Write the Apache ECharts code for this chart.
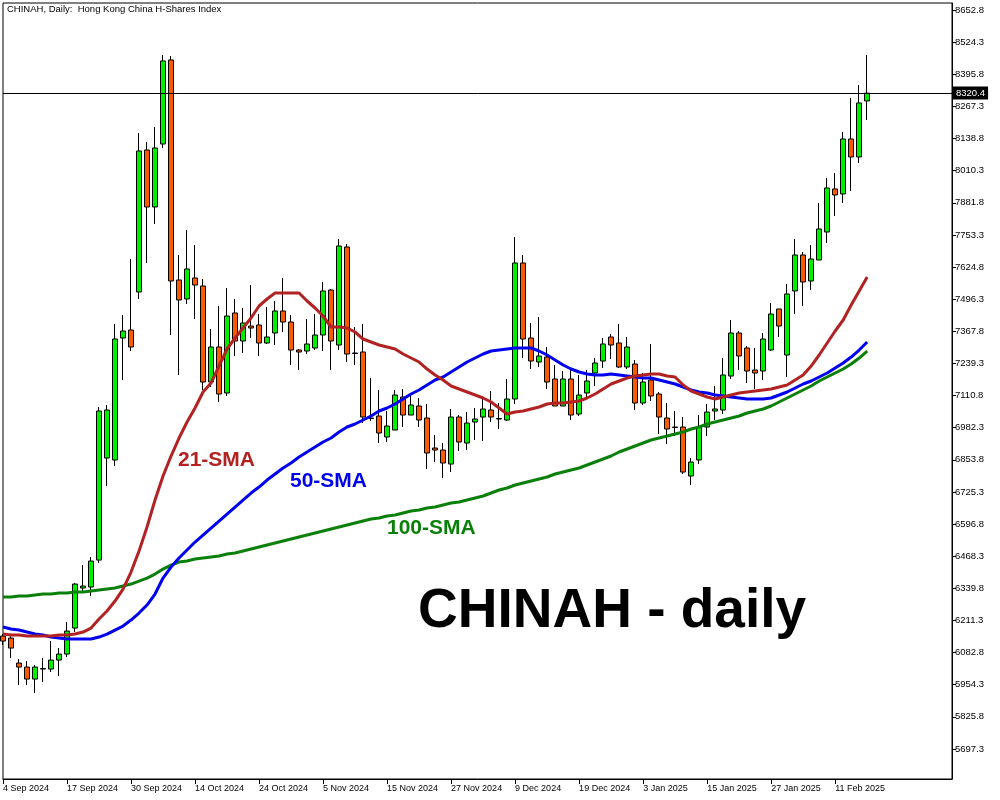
<!DOCTYPE html>
<html><head><meta charset="utf-8">
<script src="https://cdn.jsdelivr.net/npm/echarts@6/dist/echarts.min.js"></script>
<style>html,body{margin:0;padding:0;background:#fff}#c{width:1000px;height:800px}</style>
</head><body><div id="c"></div>
<script>
const dates = [
'4 Sep 2024','5 Sep 2024','6 Sep 2024','9 Sep 2024','10 Sep 2024','11 Sep 2024','12 Sep 2024','13 Sep 2024',
'17 Sep 2024','19 Sep 2024','20 Sep 2024','23 Sep 2024','24 Sep 2024','25 Sep 2024','26 Sep 2024','27 Sep 2024',
'30 Sep 2024','2 Oct 2024','3 Oct 2024','4 Oct 2024','7 Oct 2024','8 Oct 2024','9 Oct 2024','10 Oct 2024',
'14 Oct 2024','15 Oct 2024','16 Oct 2024','17 Oct 2024','18 Oct 2024','21 Oct 2024','22 Oct 2024','23 Oct 2024',
'24 Oct 2024','25 Oct 2024','28 Oct 2024','29 Oct 2024','30 Oct 2024','31 Oct 2024','1 Nov 2024','4 Nov 2024',
'5 Nov 2024','6 Nov 2024','7 Nov 2024','8 Nov 2024','11 Nov 2024','12 Nov 2024','13 Nov 2024','14 Nov 2024',
'15 Nov 2024','18 Nov 2024','19 Nov 2024','20 Nov 2024','21 Nov 2024','22 Nov 2024','25 Nov 2024','26 Nov 2024',
'27 Nov 2024','28 Nov 2024','29 Nov 2024','2 Dec 2024','3 Dec 2024','4 Dec 2024','5 Dec 2024','6 Dec 2024',
'9 Dec 2024','10 Dec 2024','11 Dec 2024','12 Dec 2024','13 Dec 2024','16 Dec 2024','17 Dec 2024','18 Dec 2024',
'19 Dec 2024','20 Dec 2024','23 Dec 2024','24 Dec 2024','27 Dec 2024','30 Dec 2024','31 Dec 2024','2 Jan 2025',
'3 Jan 2025','6 Jan 2025','7 Jan 2025','8 Jan 2025','9 Jan 2025','10 Jan 2025','13 Jan 2025','14 Jan 2025',
'15 Jan 2025','16 Jan 2025','17 Jan 2025','20 Jan 2025','21 Jan 2025','22 Jan 2025','23 Jan 2025','24 Jan 2025',
'27 Jan 2025','28 Jan 2025','3 Feb 2025','4 Feb 2025','5 Feb 2025','6 Feb 2025','7 Feb 2025','10 Feb 2025',
'11 Feb 2025','12 Feb 2025','13 Feb 2025','14 Feb 2025','17 Feb 2025'];

const opens = [6149,6141,6041,6025,5977,6017,6017,6053,6077,6181,
6341,6345,6453,6861,6853,7341,7373,7525,8093,7865,
8117,8453,7573,7497,7581,7549,7165,7305,7121,7441,
7329,7389,7393,7321,7361,7449,7405,7293,7289,7301,
7353,7533,7313,7705,7281,7285,7021,7029,6945,6973,
7105,7033,7069,7021,6901,6893,6837,7025,6921,7005,
7025,7053,7017,7013,7097,7641,7341,7245,7265,7177,
7069,7177,7037,7121,7201,7249,7345,7321,7225,7237,
7081,7173,7117,7021,6985,6985,6789,6853,6985,7049,
7053,7189,7361,7301,7213,7209,7293,7457,7273,7529,
7673,7569,7653,7765,7937,7917,8137,8065,8289];
const closes = [6129,6101,6025,5977,6025,6019,6053,6077,6169,6357,
6349,6449,7049,7053,7337,7369,7305,8089,7865,8101,
8449,7569,7493,7617,7553,7165,7305,7117,7429,7329,
7401,7381,7321,7345,7449,7405,7293,7285,7317,7353,
7529,7329,7709,7277,7279,7025,7019,6961,6989,7113,
7033,7073,7013,6881,6893,6841,7025,6925,7001,7017,
7057,7025,7019,7097,7641,7337,7249,7269,7165,7069,
7177,7033,7113,7169,7241,7317,7313,7225,7305,7081,
7165,7109,7025,6977,6983,6805,6845,6985,7045,7057,
7193,7361,7269,7209,7201,7337,7437,7389,7517,7673,
7565,7657,7777,7941,7913,8137,8065,8281,8320.4];
const lows = [6113,6061,5953,5953,5921,5965,6005,5989,6065,6165,
6325,6309,6441,6749,6829,7173,7289,7497,7641,7797,
8101,7353,7193,7477,7417,7133,7145,7085,7109,7269,
7281,7341,7269,7317,7313,7365,7233,7213,7277,7293,
7289,7213,7293,7245,7233,7001,7009,6921,6925,6973,
6985,7033,6985,6817,6845,6781,6805,6889,6893,6933,
6929,7005,6977,7009,7077,7261,7217,7225,7137,7069,
7069,7013,7029,7105,7149,7221,7257,7221,7217,7053,
7073,7089,6957,6917,6949,6797,6753,6837,6949,7013,
7037,7177,7213,7161,7137,7173,7289,7345,7185,7437,
7469,7533,7653,7721,7829,7881,7929,8041,8213];
const highs = [6157,6149,6057,6049,6033,6061,6129,6101,6205,6361,
6433,6465,7065,7073,7397,7433,7657,8161,8125,8185,
8473,8469,7673,7773,7713,7577,7377,7469,7541,7497,
7461,7553,7437,7465,7489,7581,7433,7297,7417,7437,
7565,7537,7737,7717,7385,7397,7181,7133,7049,7133,
7137,7117,7101,7077,6953,6921,7057,7033,7045,7061,
7097,7129,7081,7177,7745,7673,7401,7425,7305,7233,
7209,7225,7193,7213,7261,7341,7357,7397,7345,7253,
7201,7317,7125,7081,7049,7025,6861,7033,7077,7149,
7261,7413,7369,7309,7301,7361,7481,7457,7557,7737,
7685,7713,7881,7981,8001,8165,8301,8353,8473];

const sma21 = [6157,6153,6153,6149,6149,6149,6149,6153,6153,6157,
6165,6181,6217,6249,6289,6337,6405,6489,6585,6693,
6789,6869,6941,7005,7061,7125,7161,7229,7297,7341,
7381,7421,7469,7497,7521,7521,7521,7521,7489,7461,
7429,7385,7385,7381,7365,7337,7325,7313,7305,7297,
7277,7261,7245,7217,7193,7173,7149,7137,7125,7113,
7101,7085,7061,7037,7045,7049,7057,7065,7077,7081,
7081,7085,7089,7101,7117,7137,7157,7169,7181,7189,
7193,7197,7197,7189,7185,7153,7129,7117,7105,7097,
7105,7113,7121,7125,7129,7133,7137,7145,7153,7173,
7193,7229,7273,7321,7369,7413,7473,7529,7585];
const sma50 = [6185,6177,6173,6165,6157,6153,6145,6141,6137,6137,
6137,6137,6145,6157,6173,6189,6213,6241,6273,6317,
6381,6425,6461,6493,6525,6553,6581,6609,6637,6665,
6693,6721,6745,6773,6797,6821,6841,6865,6885,6905,
6925,6941,6965,6985,6997,7013,7029,7049,7061,7077,
7097,7117,7133,7153,7173,7185,7205,7225,7245,7261,
7277,7289,7293,7297,7301,7301,7301,7289,7273,7253,
7233,7217,7205,7197,7193,7193,7197,7193,7189,7185,
7181,7181,7173,7165,7157,7145,7133,7125,7121,7113,
7109,7105,7101,7097,7097,7097,7101,7113,7125,7141,
7157,7169,7185,7201,7221,7241,7265,7293,7325];
const sma100 = [6305,6305,6309,6309,6313,6317,6317,6321,6321,6325,
6325,6329,6333,6337,6341,6349,6357,6369,6381,6397,
6417,6433,6445,6449,6457,6461,6465,6469,6477,6481,
6489,6497,6505,6513,6521,6529,6537,6545,6553,6561,
6569,6577,6585,6593,6601,6609,6617,6621,6629,6633,
6641,6649,6653,6661,6665,6673,6681,6685,6693,6701,
6709,6721,6733,6741,6753,6761,6769,6777,6785,6797,
6805,6813,6821,6833,6845,6857,6869,6885,6897,6909,
6921,6933,6941,6949,6957,6965,6977,6985,6997,7005,
7013,7021,7029,7041,7049,7057,7069,7085,7101,7117,
7133,7149,7169,7185,7201,7217,7237,7261,7289];

const yTicks = [5697.3,5825.8,5954.3,6082.8,6211.3,6339.8,6468.3,6596.8,6725.3,6853.8,6982.3,7110.8,
7239.3,7367.8,7496.3,7624.8,7753.3,7881.8,8010.3,8138.8,8267.3,8395.8,8524.3,8652.8];
const xLabelIdx = [0,8,16,24,32,40,48,56,64,72,80,88,96,104];
const lastPrice = 8320.4;

const FONT = '"Liberation Sans", Arial, sans-serif';
const chart = echarts.init(document.getElementById('c'), null, {renderer:'canvas'});
const ohlc = opens.map((o,i)=>[i,o,closes[i],lows[i],highs[i]]);
const pairs = arr => arr.map((v,i)=>[i,v]);

chart.setOption({
  animation:false,
  backgroundColor:'#ffffff',
  title:{text:'CHINAH, Daily:  Hong Kong China H-Shares Index', left:7, top:4, padding:0,
    textStyle:{fontFamily:FONT, fontSize:9.5, fontWeight:'normal', color:'#000'}},
  grid:{left:3, right:48, top:3, bottom:21, show:true, borderColor:'#000', borderWidth:1, containLabel:false},
  xAxis:{type:'value', min:0, max:118.6,
    axisLine:{show:true, onZero:false, lineStyle:{color:'#000', width:1}},
    splitLine:{show:false},
    axisTick:{show:true, customValues:xLabelIdx, length:5, lineStyle:{color:'#000'}},
    axisLabel:{show:true, customValues:xLabelIdx, formatter:v=>dates[Math.round(v)]||'', align:'left', margin:5,
      fontSize:9, fontFamily:FONT, color:'#000'}},
  yAxis:{type:'value', position:'right', min:5577.3, max:8680.8, scale:true,
    axisLine:{show:true, onZero:false, lineStyle:{color:'#000', width:1}},
    splitLine:{show:false},
    axisTick:{show:true, customValues:yTicks, length:4, lineStyle:{color:'#000'}},
    axisLabel:{show:true, customValues:yTicks, formatter:v=>Number(v).toFixed(1), margin:3,
      fontSize:9.5, fontFamily:FONT, color:'#000'}},
  series:[
    {type:'candlestick', name:'CHINAH', data:ohlc, encode:{x:0, y:[1,2,3,4]}, barWidth:5, z:2,
      itemStyle:{color:'#00f000', color0:'#ff5a00', borderColor:'#000', borderColor0:'#000', borderColorDoji:'#000', borderWidth:1},
      markLine:{symbol:['none','none'], silent:true, animation:false,
        lineStyle:{color:'#000', width:1, type:'solid'},
        label:{show:true, position:'end', formatter:()=>lastPrice.toFixed(1), color:'#fff', backgroundColor:'#000',
          padding:[2,3,1,3], fontSize:9.5, fontFamily:FONT, distance:1},
        data:[{yAxis:lastPrice}]}},
    {type:'line', name:'100-SMA', data:pairs(sma100), showSymbol:false, z:3, lineStyle:{color:'#0a800a', width:3}},
    {type:'line', name:'50-SMA', data:pairs(sma50), showSymbol:false, z:4, lineStyle:{color:'#0000f0', width:3}},
    {type:'line', name:'21-SMA', data:pairs(sma21), showSymbol:false, z:5, lineStyle:{color:'#b22222', width:3}}
  ],
  graphic:[
    {type:'text', left:178, top:450, style:{text:'21-SMA', font:'bold 21px '+FONT, fill:'#b22222'}},
    {type:'text', left:290, top:471, style:{text:'50-SMA', font:'bold 21px '+FONT, fill:'#0000f0'}},
    {type:'text', left:387, top:518, style:{text:'100-SMA', font:'bold 21px '+FONT, fill:'#0a800a'}},
    {type:'text', left:418, top:584, style:{text:'CHINAH - daily', font:'bold 55px '+FONT, fill:'#000'}}
  ]
});
</script></body></html>
